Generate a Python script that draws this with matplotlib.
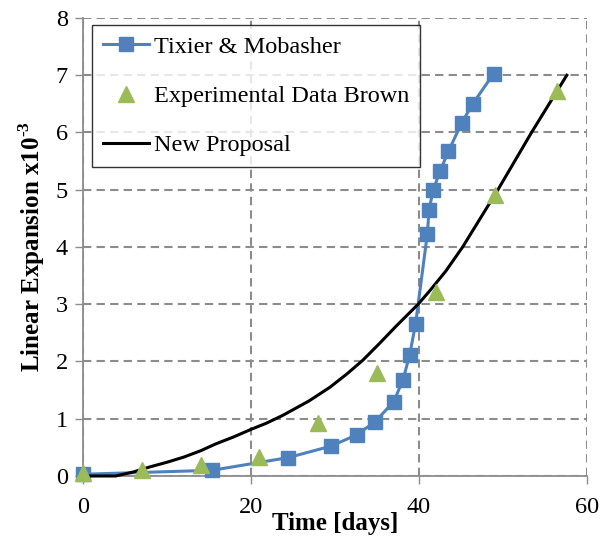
import numpy as np
import matplotlib
matplotlib.use('Agg')
import matplotlib.pyplot as plt

# Tixier & Mobasher model (days, expansion x1e-3)
tm_days = [0, 15.4, 24.4, 29.5, 32.6, 34.8, 37.0, 38.1, 38.9, 39.6,
           41.0, 41.2, 41.7, 42.5, 43.5, 45.1, 46.4, 48.9]
tm_exp = [0.03, 0.10, 0.32, 0.52, 0.72, 0.95, 1.30, 1.68, 2.12, 2.66,
          4.23, 4.65, 5.00, 5.32, 5.67, 6.17, 6.50, 7.03]

# Experimental data (Brown)
exp_days = [0, 7, 14, 21, 28, 35, 42, 49, 56.4]
exp_vals = [0.05, 0.10, 0.20, 0.33, 0.92, 1.80, 3.22, 4.90, 6.72]

# New proposal curve
new_days = [0, 3.9, 6.0, 8.0, 10.0, 12.0, 14.0, 15.8, 17.9, 20.1, 21.8,
            23.8, 26.9, 29.4, 31.4, 33.3, 35.2, 37.3, 39.9, 41.2, 43.2,
            45.2, 47.3, 49.4, 51.4, 53.4, 55.5, 57.6]
new_exp = [0.0, 0.0, 0.07, 0.16, 0.24, 0.33, 0.44, 0.56, 0.68, 0.82, 0.92,
           1.06, 1.31, 1.55, 1.78, 2.02, 2.30, 2.62, 3.00, 3.22, 3.58,
           4.00, 4.50, 5.00, 5.50, 6.00, 6.50, 7.00]

x_ticks = [0, 20, 40, 60]
y_ticks = [0, 1, 2, 3, 4, 5, 6, 7, 8]

plt.rcParams['font.family'] = ['Liberation Serif', 'DejaVu Serif']
plt.rcParams['mathtext.fontset'] = 'custom'
plt.rcParams['mathtext.rm'] = 'Liberation Serif'
plt.rcParams['mathtext.bf'] = 'Liberation Serif:bold'

blue = '#4F81BD'
green = '#9BBB59'
grid_col = '#8C8C8C'

fig = plt.figure(figsize=(6.03, 5.42), dpi=100)
fig.patch.set_facecolor('white')
ax = fig.add_axes([0.1376, 0.1218, 0.8358, 0.845])

ax.plot(tm_days, tm_exp, color=blue, lw=2.2, marker='s', markersize=9.5,
        label='Tixier & Mobasher', clip_on=False, zorder=3)
ax.plot(exp_days, exp_vals, linestyle='none', marker='^', color=green,
        markersize=12, label='Experimental Data Brown', clip_on=False, zorder=4)
ax.plot(new_days, new_exp, color='black', lw=2.2, label='New Proposal',
        clip_on=False, zorder=3, solid_joinstyle='round')

ax.set_xlim(0, 60)
ax.set_ylim(0, 8)
ax.set_xticks(x_ticks)
ax.set_yticks(y_ticks)
ax.tick_params(labelsize=17.5, direction='out', length=6, width=1,
               color=grid_col)
ax.tick_params(axis='x', pad=9)
ax.tick_params(axis='y', pad=5)

ax.grid(True, color=grid_col, linestyle=(0, (4, 2.5)), lw=1.5)
ax.set_axisbelow(True)
for side in ['top', 'right']:
    ax.spines[side].set_visible(False)
for side in ['left', 'bottom']:
    ax.spines[side].set_color(grid_col)
    ax.spines[side].set_linewidth(1.3)

ax.set_xlabel('Time [days]', fontsize=18, fontweight='bold', labelpad=-4)
ax.set_ylabel('Linear Expansion x10$^{\\mathbf{\u20103}}$', fontsize=18,
              fontweight='bold', labelpad=6)

leg = ax.legend(loc='upper left', bbox_to_anchor=(0.018, 0.985), fontsize=17.5,
                frameon=True, fancybox=False, edgecolor='black',
                handlelength=1.9, labelspacing=1.12, borderpad=0.45,
                handletextpad=0.2, borderaxespad=0.0)
leg.get_frame().set_linewidth(1.0)

plt.savefig('out.png', dpi=100, facecolor='white')
